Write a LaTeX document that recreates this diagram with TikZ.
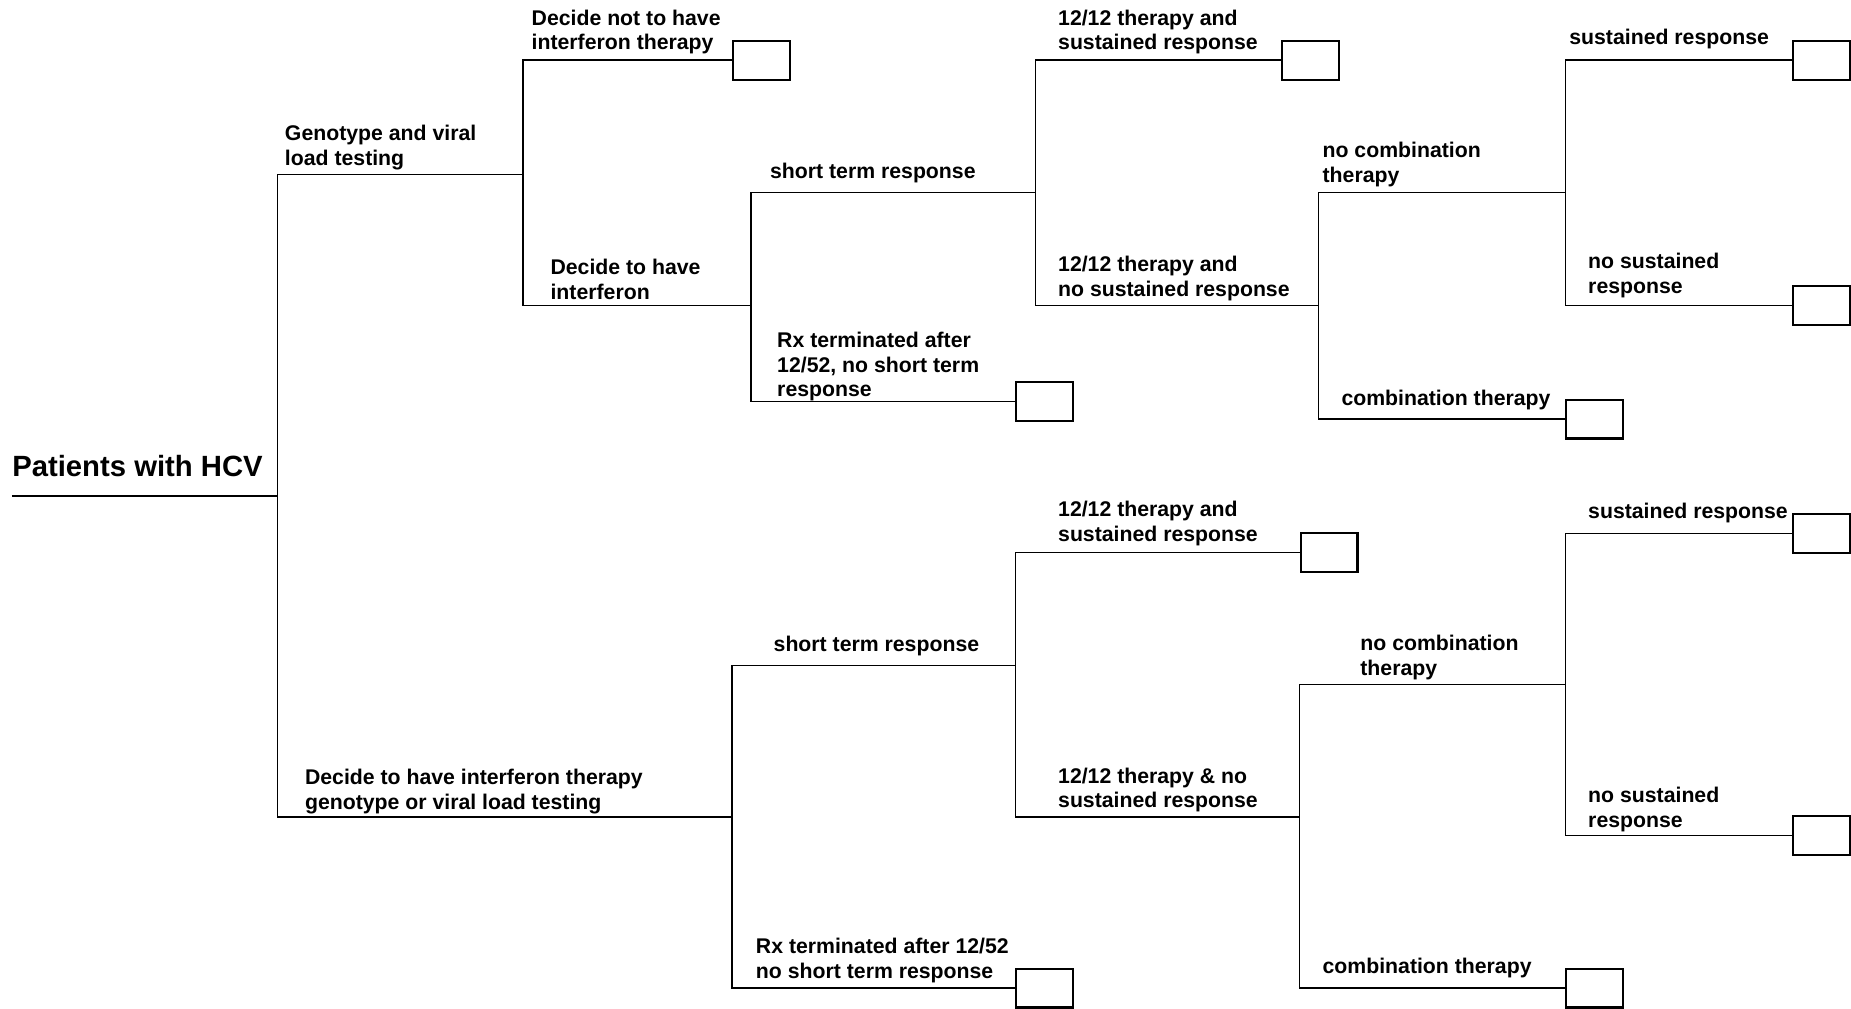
\documentclass[tikz,border=0pt]{standalone}
\usepackage{fontspec}
\setmainfont{Liberation Sans}
\newcommand{\lblfont}{\bfseries\fontsize{9}{10.5}\selectfont}
\begin{document}
\begin{tikzpicture}[x=0.5pt,y=-0.5pt,
  branch/.style={line width=0.6pt},
  leaf/.style={draw,line width=0.9pt,minimum width=24pt,minimum height=16.5pt,inner sep=0pt,anchor=west},
  lbl/.style={anchor=south west,inner sep=0pt,align=left,font=\lblfont,execute at end node=\strut}]
\useasboundingbox (0,0) rectangle (1568,854);
% chance points
\coordinate (root) at (10,420);
\coordinate (n0) at (235,420);
\coordinate (gen) at (443,148);
\coordinate (dhave) at (636,259);
\coordinate (str1) at (877,163);
\coordinate (nsus1) at (1117,259);
\coordinate (nocomb1) at (1326,163);
\coordinate (dint) at (620,692);
\coordinate (str2) at (860,564);
\coordinate (nsus2) at (1101,692);
\coordinate (nocomb2) at (1326,580);
% terminal boxes
\node[leaf] (notx) at (620,51) {};
\node[leaf] (rx1) at (860,340) {};
\node[leaf] (sus1) at (1085,51) {};
\node[leaf] (comb1) at (1326,355) {};
\node[leaf] (sr1) at (1518,51) {};
\node[leaf] (nsr1) at (1518,259) {};
\node[leaf] (rx2) at (860,837) {};
\node[leaf] (sus2) at (1101,468) {};
\node[leaf] (comb2) at (1326,837) {};
\node[leaf] (sr2) at (1518,452) {};
\node[leaf] (nsr2) at (1518,708) {};
% branches
\draw[branch] (root) -- (n0);
\draw[branch] (n0) |- (gen);
\draw[branch] (n0) |- (dint);
\draw[branch] (gen) |- (notx.west);
\draw[branch] (gen) |- (dhave);
\draw[branch] (dhave) |- (str1);
\draw[branch] (dhave) |- (rx1.west);
\draw[branch] (str1) |- (sus1.west);
\draw[branch] (str1) |- (nsus1);
\draw[branch] (nsus1) |- (nocomb1);
\draw[branch] (nsus1) |- (comb1.west);
\draw[branch] (nocomb1) |- (sr1.west);
\draw[branch] (nocomb1) |- (nsr1.west);
\draw[branch] (dint) |- (str2);
\draw[branch] (dint) |- (rx2.west);
\draw[branch] (str2) |- (sus2.west);
\draw[branch] (str2) |- (nsus2);
\draw[branch] (nsus2) |- (nocomb2);
\draw[branch] (nsus2) |- (comb2.west);
\draw[branch] (nocomb2) |- (sr2.west);
\draw[branch] (nocomb2) |- (nsr2.west);
% labels
\node[anchor=base west,inner sep=0pt,font=\bfseries\fontsize{12.4}{15}\selectfont] (troot) at (10,403.5) {Patients with HCV};
\node[lbl] (tgen) at (241,147) {Genotype and viral\\load testing};
\node[lbl] (tnotx) at (450,49) {Decide not to have\\interferon therapy};
\node[lbl] (tdhave) at (466,260) {Decide to have\\interferon};
\node[lbl] (tstr1) at (652,157.5) {short term response};
\node[lbl] (trx1) at (658,343) {Rx terminated after\\12/52, no short term\\response};
\node[lbl] (tsus1) at (896,49) {12/12 therapy and\\sustained response};
\node[lbl] (tnsus1) at (896,258) {12/12 therapy and\\no sustained response};
\node[lbl] (tnocomb1) at (1120,161.5) {no combination\\therapy};
\node[lbl] (tcomb1) at (1136,350) {combination therapy};
\node[lbl] (tsr1) at (1329,44) {sustained response};
\node[lbl] (tnsr1) at (1345,255.5) {no sustained\\response};
\node[lbl] (tdint) at (258,692.5) {Decide to have interferon therapy\\genotype or viral load testing};
\node[lbl] (tstr2) at (655,559) {short term response};
\node[lbl] (trx2) at (640,835.5) {Rx terminated after 12/52\\no short term response};
\node[lbl] (tsus2) at (896,465) {12/12 therapy and\\sustained response};
\node[lbl] (tnsus2) at (896,691) {12/12 therapy \& no\\sustained response};
\node[lbl] (tnocomb2) at (1152,579) {no combination\\therapy};
\node[lbl] (tcomb2) at (1120,831.5) {combination therapy};
\node[lbl] (tsr2) at (1345,446) {sustained response};
\node[lbl] (tnsr2) at (1345,707.5) {no sustained\\response};
\end{tikzpicture}
\end{document}
